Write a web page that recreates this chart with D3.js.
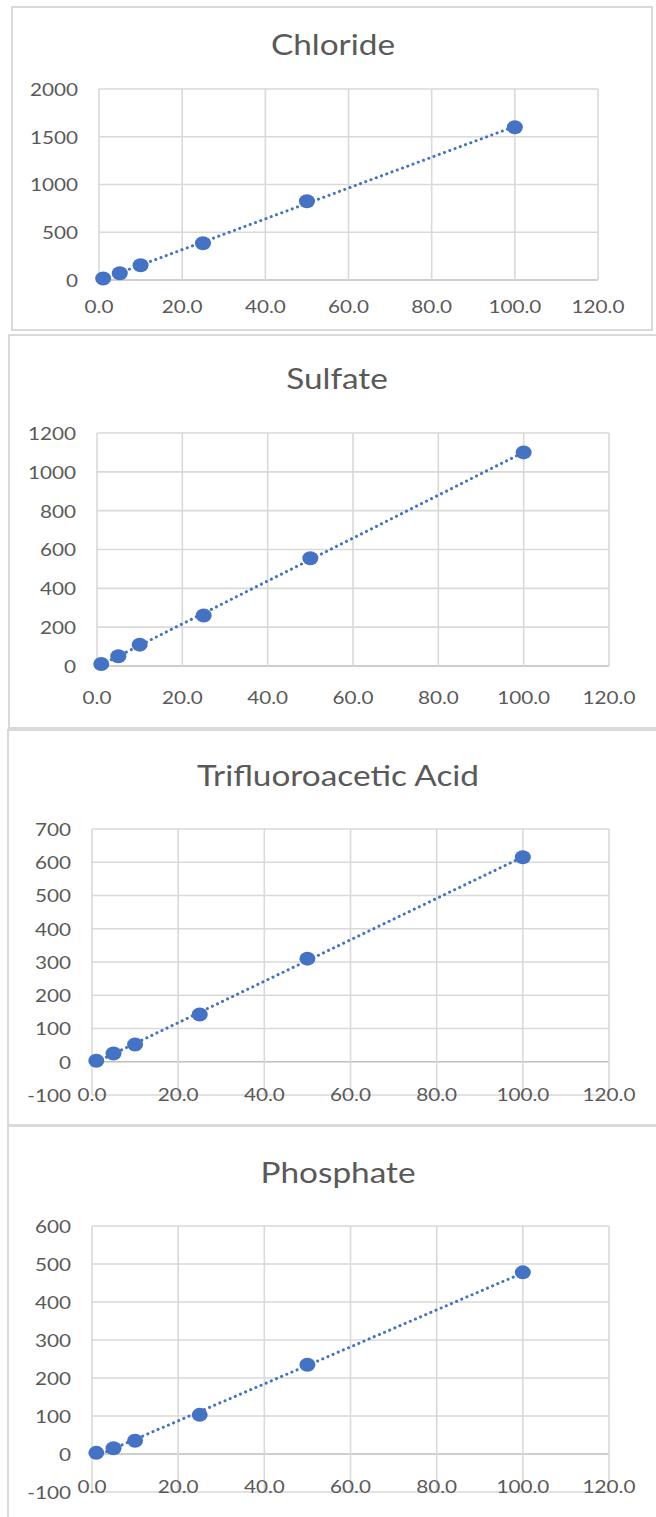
<!DOCTYPE html>
<html lang="en">
<head>
<meta charset="UTF-8">
<title>Calibration curves</title>
<script src="https://cdn.jsdelivr.net/npm/d3@7/dist/d3.min.js"></script>
<style>
  body { margin: 0; background: #fff; }
  text { font-family: Lato, "Open Sans", sans-serif; fill: #595959; }
</style>
</head>
<body>
<script>
// concentrations (x) and peak areas (y)
const conc      = [1, 5, 10, 25, 50, 100];
const chloride  = [15, 70, 155, 385, 825, 1600];
const sulfate   = [10, 50, 110, 260, 555, 1100];
const tfa       = [3, 25, 52, 142, 310, 615];
const phosphate = [3, 15, 35, 103, 235, 478];

const xTicks         = [0, 20, 40, 60, 80, 100, 120];
const chlorideTicks  = [0, 500, 1000, 1500, 2000];
const sulfateTicks   = [0, 200, 400, 600, 800, 1000, 1200];
const tfaTicks       = [-100, 0, 100, 200, 300, 400, 500, 600, 700];
const phosphateTicks = [-100, 0, 100, 200, 300, 400, 500, 600];

const titles = ["Chloride", "Sulfate", "Trifluoroacetic Acid", "Phosphate"];

// layout of the four stacked chart panels
const panels = [
  { title: titles[0], ys: chloride, yt: chlorideTicks,
    box: [12, 7, 640, 323], plot: [99, 598, 89, 280], tx: 333, ty: 55, xl: 26 },
  { title: titles[1], ys: sulfate, yt: sulfateTicks,
    box: [9, 335, 660, 393], plot: [97, 609, 433, 666], tx: 337, ty: 389, xl: 31 },
  { title: titles[2], ys: tfa, yt: tfaTicks,
    box: [8, 730, 660, 395], plot: [92, 609, 829, 1095], tx: 338, ty: 786, xl: -1 },
  { title: titles[3], ys: phosphate, yt: phosphateTicks,
    box: [8, 1126, 660, 400], plot: [92, 609, 1226, 1492], tx: 338, ty: 1183, xl: -6 }
];

const W = 656, H = 1517;
const blue = "#4472C4", grid = "#d9d9d9";
const titleSx = 1.15, tickSx = 1.15;

const svg = d3.select("body").append("svg")
  .attr("width", W).attr("height", H);
svg.append("rect").attr("width", W).attr("height", H).attr("fill", "#fff");

function label(g, txt, x, y, size, sx, anchor) {
  return g.append("text")
    .attr("transform", "translate(" + x + "," + y + ") scale(" + sx + ",1)")
    .attr("text-anchor", anchor)
    .attr("dominant-baseline", "central")
    .attr("font-size", size)
    .text(txt);
}

panels.forEach(function (p) {
  const g = svg.append("g");
  const [L, R, T, B] = p.plot;

  g.append("rect")
    .attr("x", p.box[0]).attr("y", p.box[1])
    .attr("width", p.box[2]).attr("height", p.box[3])
    .attr("fill", "#fff").attr("stroke", grid).attr("stroke-width", 2);

  const x = d3.scaleLinear().domain([0, 120]).range([L, R]);
  const y = d3.scaleLinear().domain(d3.extent(p.yt)).range([B, T]);

  // gridlines
  g.selectAll(".hg").data(p.yt).enter().append("line")
    .attr("x1", L).attr("x2", R)
    .attr("y1", d => y(d)).attr("y2", d => y(d))
    .attr("stroke", d => d === 0 ? "#bfbfbf" : grid)
    .attr("stroke-width", 1.6);
  g.selectAll(".vg").data(xTicks).enter().append("line")
    .attr("x1", d => x(d)).attr("x2", d => x(d))
    .attr("y1", T).attr("y2", B)
    .attr("stroke", grid).attr("stroke-width", 1.6);

  // tick labels
  p.yt.forEach(d => label(g, d, L - 21, y(d), 18, tickSx, "end"));
  xTicks.forEach(d => label(g, d3.format(".1f")(d), x(d), B + p.xl, 18, tickSx, "middle"));

  // title
  g.append("text")
    .attr("transform", "translate(" + p.tx + "," + p.ty + ") scale(" + titleSx + ",1)")
    .attr("text-anchor", "middle")
    .attr("font-size", 29)
    .text(p.title);

  // linear trendline (least squares)
  const mx = d3.mean(conc), my = d3.mean(p.ys);
  const slope = d3.sum(conc, (c, i) => (c - mx) * (p.ys[i] - my)) /
                d3.sum(conc, c => (c - mx) * (c - mx));
  const icpt = my - slope * mx;
  const ends = d3.extent(conc);
  g.append("path")
    .datum(ends)
    .attr("d", d3.line().x(d => x(d)).y(d => y(icpt + slope * d)))
    .attr("fill", "none").attr("stroke", blue)
    .attr("stroke-width", 3).attr("stroke-linecap", "round")
    .attr("stroke-dasharray", "0.1 5.5");

  // points
  g.selectAll(".pt").data(conc).enter().append("ellipse")
    .attr("cx", d => x(d))
    .attr("cy", (d, i) => y(p.ys[i]))
    .attr("rx", 8).attr("ry", 7)
    .attr("fill", blue);
});
</script>
</body>
</html>
